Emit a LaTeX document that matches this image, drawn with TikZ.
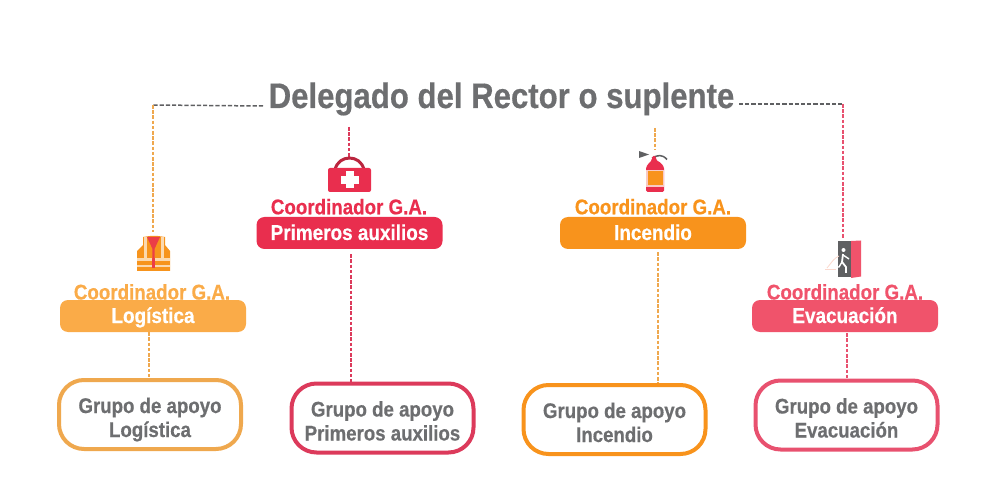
\documentclass[tikz,border=0pt]{standalone}
\usepackage{fontspec}
\newfontfamily\rc[FakeStretch=0.88,FakeBold=0.5,UprightFont=* Bold]{Liberation Sans}
\definecolor{grayT}{HTML}{6D6E70}
\definecolor{grayL}{HTML}{5F6062}
\definecolor{cLog}{HTML}{FAAB48}
\definecolor{cLogB}{HTML}{EFA84E}
\definecolor{cPri}{HTML}{E92E4E}
\definecolor{cPriB}{HTML}{DC3A5B}
\definecolor{cInc}{HTML}{F8931C}
\definecolor{cEva}{HTML}{F0536B}
\definecolor{cEvaB}{HTML}{E8516F}
\definecolor{vest}{HTML}{F7941D}
\definecolor{pale}{HTML}{FBD9B0}
\newcommand{\bandtext}[1]{\raisebox{-7pt}[0pt][0pt]{#1}}
\newcommand{\grouptext}[2]{\raisebox{1.5pt}[0pt][0pt]{\begin{tabular}[t]{@{}c@{}}#1\\#2\end{tabular}}}
\tikzset{
  x=1pt,y=-1pt,
  titlelabel/.style={inner sep=0pt,anchor=base,text=grayT,font=\rc\fontsize{35.4}{35.4}\selectfont},
  coordlabel/.style={inner sep=0pt,anchor=base,font=\rc\fontsize{21.3}{21.3}\selectfont},
  bandbox/.style={fill=#1,rounded corners=8pt,minimum width=186pt,minimum height=32pt,inner sep=0pt,text=white,font=\rc\fontsize{21.5}{21.5}\selectfont},
  groupbox/.style={draw=#1,fill=white,line width=4pt,rounded corners=25pt,minimum width=182pt,minimum height=69pt,inner sep=0pt,text=grayT,font=\rc\fontsize{21.2}{24}\selectfont},
  dashline/.style={draw=#1,line width=2pt,dash pattern=on 3.6pt off 1.6pt},
  graydash/.style={draw=grayL,line width=1.5pt,dash pattern=on 4.2pt off 2pt}
}
\begin{document}
\begin{tikzpicture}
\useasboundingbox (0,0) rectangle (1000,502);
% labels (behind the bands)
\node[titlelabel] (title) at (501.5,108) {Delegado del Rector o suplente};
\node[coordlabel,text=cLog] (lblL) at (152,299.5) {Coordinador G.A.};
\node[coordlabel,text=cPri] (lblP) at (349,214.3) {Coordinador G.A.};
\node[coordlabel,text=cInc] (lblI) at (653,214.3) {Coordinador G.A.};
\node[coordlabel,text=cEva] (lblE) at (845,299.5) {Coordinador G.A.};
% bands
\node[bandbox=cLog] (bandL) at (153,316) {\bandtext{Logística}};
\node[bandbox=cPri] (bandP) at (349.5,233) {\bandtext{Primeros auxilios}};
\node[bandbox=cInc] (bandI) at (653,233) {\bandtext{Incendio}};
\node[bandbox=cEva] (bandE) at (845,316) {\bandtext{Evacuación}};
% groups
\node[groupbox=cLogB] (grpL) at (150,414.5) {\grouptext{Grupo de apoyo}{Logística}};
\node[groupbox=cPriB] (grpP) at (382.5,418) {\grouptext{Grupo de apoyo}{Primeros auxilios}};
\node[groupbox=cInc] (grpI) at (614.5,419.5) {\grouptext{Grupo de apoyo}{Incendio}};
\node[groupbox=cEvaB] (grpE) at (846.5,415) {\grouptext{Grupo de apoyo}{Evacuación}};
% connector anchors
\coordinate (elbowL) at (153,105);
\coordinate (elbowE) at (843,104);
\coordinate (titleL) at (263,106);
\coordinate (titleE) at (739,104);
\coordinate (vestTop) at (153,232);
\coordinate (kitTop) at (349,127);
\coordinate (kitEnd) at (349,157);
\coordinate (extTop) at (655,128);
\coordinate (extEnd) at (655,150);
\coordinate (exitEnd) at (843,238);
\coordinate (xL) at (149,0);
\coordinate (xP) at (351,0);
\coordinate (xI) at (658,0);
\coordinate (xE) at (847,0);
% connectors
\draw[graydash] (titleL) -- (elbowL);
\draw[graydash] (titleE) -- (elbowE);
\draw[dashline=cLogB] (elbowL) -- (vestTop);
\draw[dashline=cEvaB] (elbowE) -- (exitEnd);
\draw[dashline=cPriB] (kitTop) -- (kitEnd);
\draw[dashline=cLogB] (extTop) -- (extEnd);
\draw[dashline=cLogB] (xL |- bandL.south) -- (xL |- grpL.north);
\draw[dashline=cPriB,shorten <=5pt] (xP |- bandP.south) -- (xP |- grpP.north);
\draw[dashline=cLogB,shorten <=3pt] (xI |- bandI.south) -- (xI |- grpI.north);
\draw[dashline=cEvaB,shorten <=1pt] (xE |- bandE.south) -- (xE |- grpE.north);
% first-aid kit
\draw[draw=cPri!80!black,line width=3pt] (335,170) .. controls (338,154) and (361,154) .. (364,170);
\fill[cPri,rounded corners=2pt] (328,168) rectangle (371,192);
\fill[white] (346,171.5) rectangle (353.5,188.5);
\fill[white] (341,176.5) rectangle (358.5,184);
% extinguisher
\fill[grayL] (639,151) -- (649,154.5) -- (639,158) -- cycle;
\draw[grayL,line width=1.5pt] (652,158) .. controls (658,155) and (662,154) .. (667,159.5);
\fill[cPri,rounded corners=1.5pt] (652,156) -- (656,156) -- (656,160) -- (661,163) -- (664,167) -- (664,192) -- (646,192) -- (646,167) -- (649,163) -- (652,160) -- cycle;
\fill[pale!60!cPri!50!white] (646,170) rectangle (664,187);
\fill[cInc] (648,171.5) rectangle (662.5,185.5);
% vest
\fill[vest] (143,237) -- (150,236) -- (158,236) -- (165,237) -- (165,245) -- (170,251) -- (170,271) -- (137,271) -- (137,251) -- (143,245) -- cycle;
\fill[pale] (144,237) rectangle (147,261);
\fill[pale] (161,237) rectangle (164,261);
\fill[pale] (137,258) rectangle (152,261);
\fill[pale] (155,258) rectangle (170,261);
\fill[pale] (137,265) rectangle (152,267.5);
\fill[pale] (155,265) rectangle (170,267.5);
\fill[cPri!85!vest] (147,237) -- (160,237) -- (154.5,249) -- (155,268) -- (152,268) -- (152.5,249) -- cycle;
% exit door
\fill[grayL] (838,241) rectangle (851,277);
\fill[cEva] (851,241) -- (861,240.5) -- (861,276.5) -- (851,278) -- cycle;
\fill[white] (843.5,250) circle (2pt);
\draw[white,line width=1.8pt,line join=round] (843,254) -- (842,262) -- (846,267) -- (846,273);
\draw[white,line width=1.4pt,line join=round] (843,255) -- (849,259);
\draw[white,line width=1.4pt,line join=round] (842,262) -- (839,267) -- (834,267);
\draw[pale!70!cEva!50!white,line width=.8pt] (827,268) .. controls (832,262) and (834,258) .. (839,256);
\draw[pale!70!cEva!50!white,line width=.8pt] (825,269) -- (836,269);
\end{tikzpicture}
\end{document}
